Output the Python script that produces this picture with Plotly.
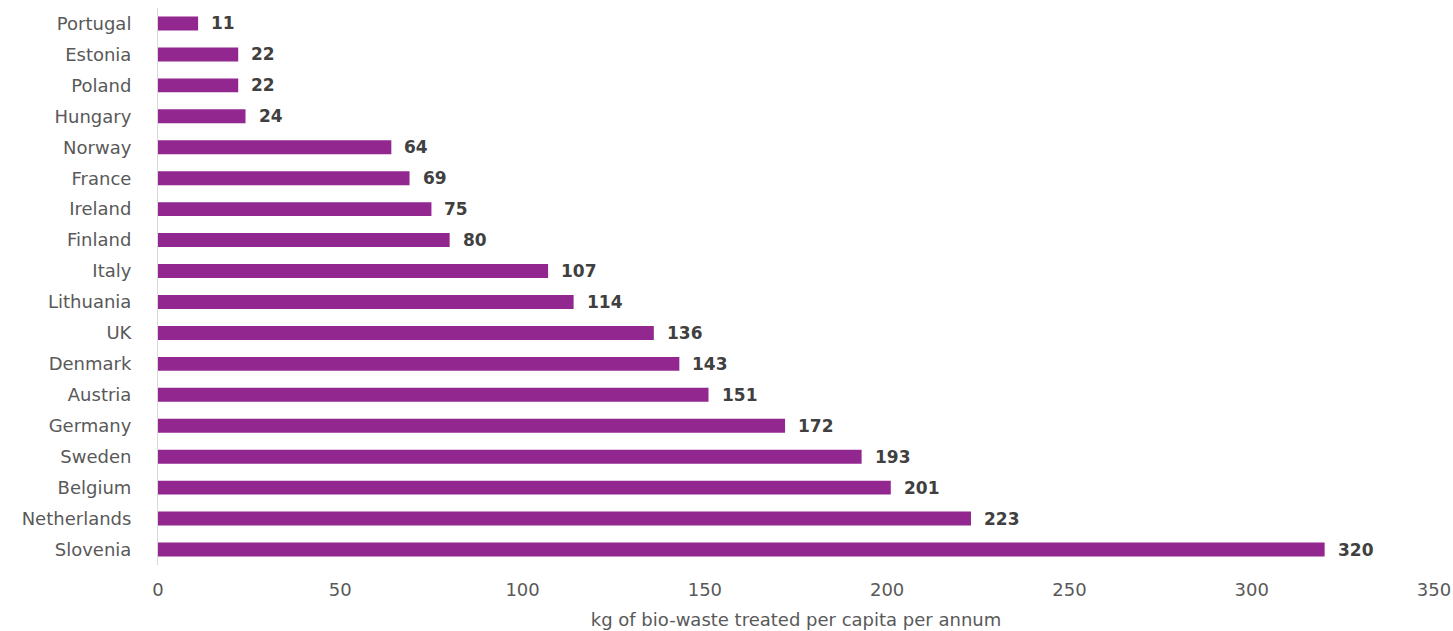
import plotly.graph_objects as go

countries = ["Portugal", "Estonia", "Poland", "Hungary", "Norway", "France", "Ireland",
             "Finland", "Italy", "Lithuania", "UK", "Denmark", "Austria", "Germany",
             "Sweden", "Belgium", "Netherlands", "Slovenia"]
values = [11, 22, 22, 24, 64, 69, 75, 80, 107, 114, 136, 143, 151, 172, 193, 201, 223, 320]
x_ticks = [0, 50, 100, 150, 200, 250, 300, 350]
x_title = "kg of bio-waste treated per capita per annum"

FONT = "DejaVu Sans"

fig = go.Figure()
fig.add_trace(go.Bar(
    y=countries, x=values, orientation="h",
    marker=dict(color="#92278F", line=dict(width=0)),
    hoverinfo="x+y",
))

for c, v in zip(countries, values):
    fig.add_annotation(x=v, y=c, text=str(v), showarrow=False, xanchor="left",
                       xshift=11, font=dict(family=FONT, size=17, color="#404040",
                                            weight="bold"))

fig.update_layout(
    width=1453, height=631,
    margin=dict(l=158, r=19, t=7.5, b=65.5, autoexpand=False),
    paper_bgcolor="white", plot_bgcolor="white",
    bargap=0.55,
    showlegend=False,
    font=dict(family=FONT, color="#595959", size=18),
    xaxis=dict(range=[0, 350], tickvals=x_ticks, showgrid=False, zeroline=False,
               showline=False, ticks="", ticklabelstandoff=12, automargin=False,
               tickfont=dict(family=FONT, size=18, color="#595959"),
               title=dict(text=x_title, font=dict(family=FONT, size=18, color="#595959"),
                          standoff=14)),
    yaxis=dict(autorange="reversed", showgrid=False, zeroline=False, automargin=False,
               showline=True, linecolor="#D9D9D9", linewidth=1, ticks="",
               ticklabelstandoff=22, tickfont=dict(family=FONT, size=18, color="#595959")),
)

fig.write_html("out.html")
